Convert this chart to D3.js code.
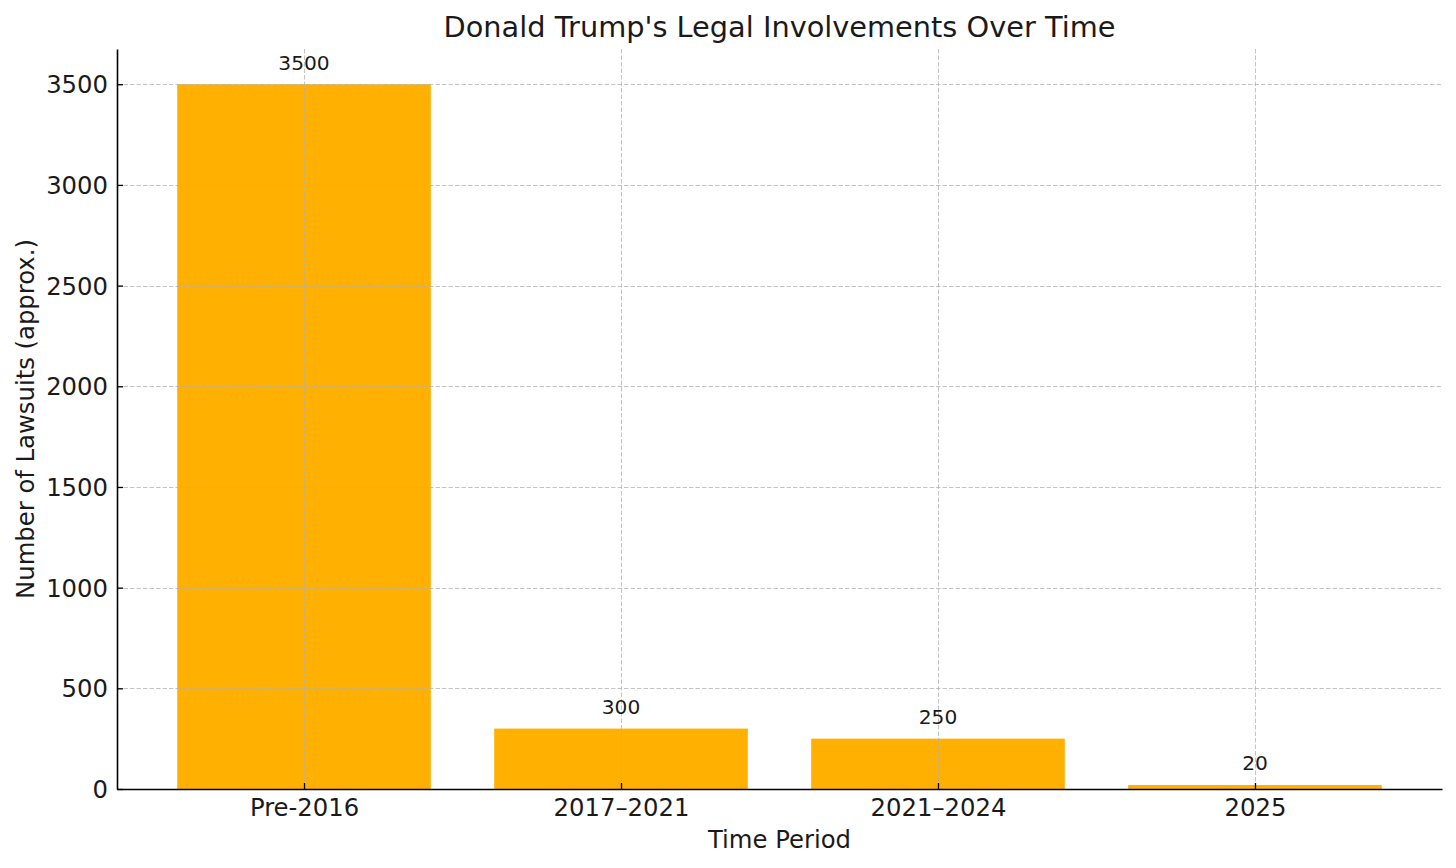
<!DOCTYPE html>
<html>
<head>
<meta charset="utf-8">
<script src="https://cdn.jsdelivr.net/npm/d3@7"></script>
<style>
  html, body { margin: 0; padding: 0; background: #fff; }
  svg { display: block; }
  text { font-family: "DejaVu Sans", sans-serif; fill: #1a1a1a; }
</style>
</head>
<body>
<svg id="chart" width="1456" height="868"></svg>
<script>
const categories = ["Pre-2016", "2017\u20132021", "2021\u20132024", "2025"];
const lawsuits = [3500, 300, 250, 20];
const yTicks = [0, 500, 1000, 1500, 2000, 2500, 3000, 3500];
const titleText = "Donald Trump's Legal Involvements Over Time";
const xLabelText = "Time Period";
const yLabelText = "Number of Lawsuits (approx.)";

const W = 1456, H = 868;
const m = { left: 117, right: 1442, top: 49, bottom: 789 };
const barColor = "#ffb000";
const labelSize = 24.3, titleSize = 28.8, valueSize = 20.2;

const svg = d3.select("#chart");

const n = categories.length;
const pad = 0.05 * (n - 1 + 0.8);
const x = d3.scaleLinear().domain([-0.4 - pad, n - 1 + 0.4 + pad]).range([m.left, m.right]);
const yMax = d3.max(lawsuits) * 1.05;
const y = d3.scaleLinear().domain([0, yMax]).range([m.bottom, m.top]);

// bars
svg.append("g").selectAll("rect").data(lawsuits).join("rect")
  .attr("x", (d, i) => x(i - 0.4))
  .attr("width", (d, i) => x(i + 0.4) - x(i - 0.4))
  .attr("y", d => y(d))
  .attr("height", d => y(0) - y(d))
  .attr("fill", barColor);

// grid (drawn above bars)
const grid = svg.append("g").attr("stroke", "#b0b0b0").attr("stroke-opacity", 0.75)
  .attr("stroke-width", 1).attr("stroke-dasharray", "4.5,2");
grid.selectAll("line.h").data(yTicks).join("line").attr("class", "h")
  .attr("x1", m.left).attr("x2", m.right)
  .attr("y1", d => Math.round(y(d)) + 0.5).attr("y2", d => Math.round(y(d)) + 0.5);
grid.selectAll("line.v").data(categories).join("line").attr("class", "v")
  .attr("y1", m.top).attr("y2", m.bottom)
  .attr("x1", (d, i) => Math.round(x(i)) + 0.5).attr("x2", (d, i) => Math.round(x(i)) + 0.5);

// axes
const yAxis = d3.axisLeft(y).tickValues(yTicks).tickSizeInner(-6).tickSizeOuter(0).tickFormat(d3.format("d"));
const gy = svg.append("g").attr("transform", `translate(${m.left},0)`).call(yAxis);
gy.select(".domain").attr("stroke", "#000").attr("stroke-width", 1.6);
gy.selectAll(".tick line").attr("stroke", "#000").attr("stroke-width", 1.3);
gy.selectAll(".tick text").attr("font-size", labelSize).attr("fill", "#1a1a1a")
  .attr("dy", null).attr("dominant-baseline", "central").attr("x", -9);

const xAxis = d3.axisBottom(x).tickValues(d3.range(n)).tickFormat(i => categories[i])
  .tickSizeInner(-6).tickSizeOuter(0);
const gx = svg.append("g").attr("transform", `translate(0,${m.bottom})`).call(xAxis);
gx.select(".domain").attr("stroke", "#000").attr("stroke-width", 1.6);
gx.selectAll(".tick line").attr("stroke", "#000").attr("stroke-width", 1.3);
gx.selectAll(".tick text").attr("font-size", labelSize).attr("fill", "#1a1a1a")
  .attr("dy", null).attr("y", 26.8);

// value labels
svg.append("g").selectAll("text").data(lawsuits).join("text")
  .attr("x", (d, i) => x(i))
  .attr("y", d => y(d) - 14.5)
  .attr("text-anchor", "middle")
  .attr("font-size", valueSize)
  .text(d => d);

// title and axis labels
svg.append("text").attr("x", (m.left + m.right) / 2).attr("y", 36.5)
  .attr("text-anchor", "middle").attr("font-size", titleSize).text(titleText);
svg.append("text").attr("x", (m.left + m.right) / 2).attr("y", 848)
  .attr("text-anchor", "middle").attr("font-size", labelSize).text(xLabelText);
svg.append("text").attr("transform", `translate(34,${(m.top + m.bottom) / 2}) rotate(-90)`)
  .attr("text-anchor", "middle").attr("font-size", labelSize).text(yLabelText);
</script>
</body>
</html>
